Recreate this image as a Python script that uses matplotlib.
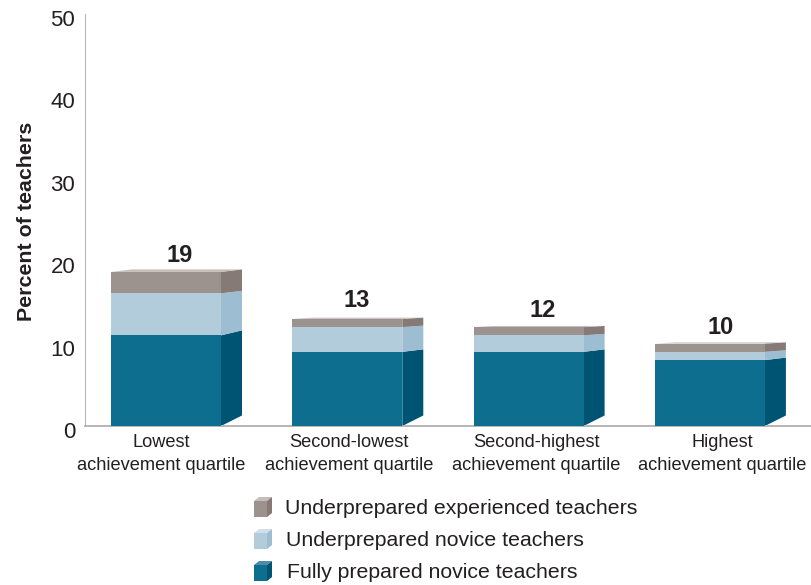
import matplotlib
matplotlib.use("Agg")
import matplotlib.pyplot as plt
from matplotlib.patches import Polygon, Rectangle
from matplotlib.transforms import offset_copy, ScaledTranslation
import numpy as np

plt.rcParams['font.family'] = ['Liberation Sans', 'DejaVu Sans']

categories = ["Lowest\nachievement quartile", "Second-lowest\nachievement quartile",
              "Second-highest\nachievement quartile", "Highest\nachievement quartile"]
fully_prepared = [11.0, 9.0, 9.0, 8.0]
underprepared_novice = [5.1, 3.0, 2.0, 1.0]
underprepared_experienced = [2.6, 1.0, 1.0, 1.0]
totals = [19, 13, 12, 10]
series_names = ["Fully prepared novice teachers", "Underprepared novice teachers",
                "Underprepared experienced teachers"]
yticks = [0, 10, 20, 30, 40, 50]

W, H = 812, 585
front = ['#0D6E8F', '#B3CCDC', '#9C928E']
side = ['#005473', '#9DBED2', '#857A75']
top_c = ['#4F8BA8', '#CFE0EA', '#C6BDBA']

fig = plt.figure(figsize=(W/100, H/100), dpi=100)
px_left, px_base, px_top = 85, 426, 14
ax = fig.add_axes([px_left/W, 1-px_base/H, 1-px_left/W, (px_base-px_top)/H])
step = 181.3
c0 = 166
ax.set_xlim((px_left-c0)/step, (W-c0)/step)
ax.set_ylim(0, 50)
bw = 110/step
depth = 21/step
px_per_unit = (px_base-px_top)/50
base_rise = 10.5/px_per_unit

x = np.arange(len(categories))
series = [fully_prepared, underprepared_novice, underprepared_experienced]
level_rise = [5/px_per_unit, 2.5/px_per_unit, 2.5/px_per_unit]
small_rise = [2.5/px_per_unit, 1.5/px_per_unit, 1.2/px_per_unit]

for i, xi in enumerate(x):
    bottom = 0.0
    rb = base_rise
    for s, vals in enumerate(series):
        v = vals[i]
        t = bottom + v
        r = level_rise[s] if i == 0 else small_rise[s]
        x0, x1 = xi-bw/2, xi+bw/2
        ax.add_patch(Polygon([(x1, bottom), (x1+depth, bottom+rb), (x1+depth, t+r), (x1, t)],
                             closed=True, fc=side[s], ec='none', zorder=2))
        ax.add_patch(Rectangle((x0, bottom), bw, v, fc=front[s], ec='none', zorder=3))
        if s == len(series)-1:
            ax.add_patch(Polygon([(x0, t), (x0+depth, t+r), (x1+depth, t+r), (x1, t)],
                                 closed=True, fc=top_c[s], ec='none', zorder=2))
        bottom = t
        rb = r

# value labels
label_dx = [14, 9, 14, 11]
label_h = [18.7, 13.2, 12, 10]
for xi, h, tot, dx in zip(x, label_h, totals, label_dx):
    tr = offset_copy(ax.transData, fig=fig, x=dx*0.72, y=3.5, units='points')
    ax.text(xi, h, str(tot), transform=tr, ha='center', va='bottom',
            fontsize=17, fontweight='bold', color='#231F20')

for sp in ('top', 'right'):
    ax.spines[sp].set_visible(False)
ax.spines['left'].set_color('#B8B8B8')
ax.spines['left'].set_linewidth(0.8)
ax.spines['bottom'].set_color('#B0B0B0')
ax.spines['bottom'].set_linewidth(1.3)
ax.set_yticks(yticks)
ax.tick_params(axis='y', length=0, pad=7, labelsize=16, labelcolor='#231F20')
# y labels sit about 4 px below their gridline level
shift = ScaledTranslation(0, -4/100, fig.dpi_scale_trans)
for lab in ax.get_yticklabels():
    lab.set_transform(lab.get_transform() + shift)

label_centers = [161, 349, 536, 722]
ax.set_xticks([(p-c0)/step for p in label_centers])
ax.set_xticklabels(categories, fontsize=13.15, color='#231F20', linespacing=1.42)
ax.tick_params(axis='x', length=0, pad=6)

fig.text(27/W, 1-221/H, "Percent of teachers", rotation=90, ha='center', va='center',
         fontsize=15.4, fontweight='bold', color='#231F20')

# legend
fx = lambda p: p/W
fy = lambda p: 1-p/H
leg_rows = [(2, 285, 509), (1, 286.5, 541), (0, 287.5, 573)]
for s, tx, cy in leg_rows:
    x0, x1 = 254, 267
    y0, y1 = cy-8, cy+8
    d = 5
    rise = 4
    fig.add_artist(Polygon([(fx(x0), fy(y0)), (fx(x0+d), fy(y0-rise)), (fx(x1+d), fy(y0-rise)), (fx(x1), fy(y0))],
                           closed=True, fc=top_c[s], ec='none', transform=fig.transFigure))
    fig.add_artist(Polygon([(fx(x1), fy(y0)), (fx(x1+d), fy(y0-rise)), (fx(x1+d), fy(y1-rise)), (fx(x1), fy(y1))],
                           closed=True, fc=side[s], ec='none', transform=fig.transFigure))
    fig.add_artist(Rectangle((fx(x0), fy(y1)), (x1-x0)/W, (y1-y0)/H, fc=front[s], ec='none',
                             transform=fig.transFigure))
    fig.text(tx/W, fy(cy), series_names[s], ha='left', va='center', fontsize=15.3, color='#231F20')

fig.savefig('out.png', dpi=100)
